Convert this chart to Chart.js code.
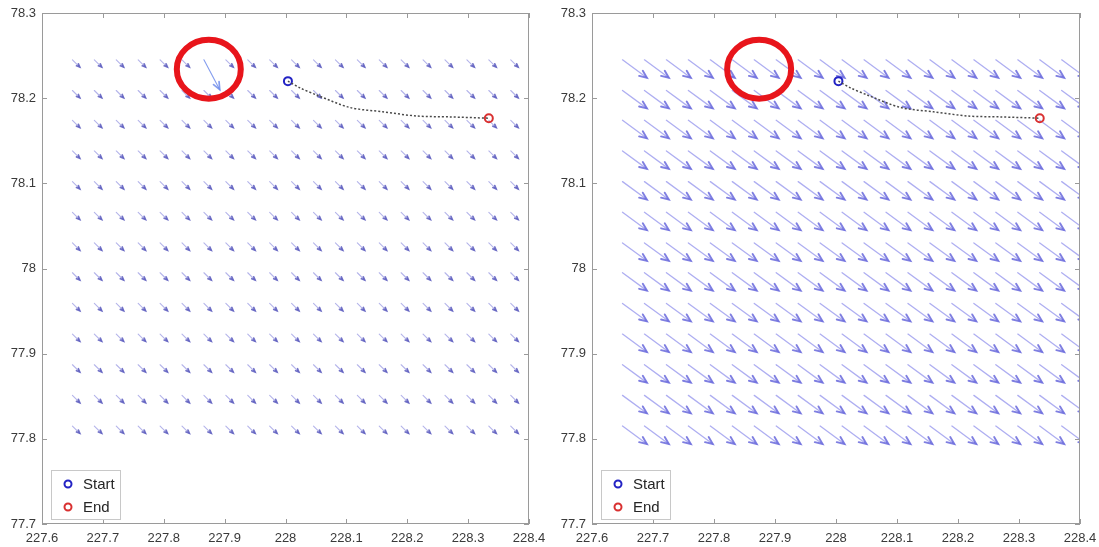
<!DOCTYPE html>
<html>
<head>
<meta charset="utf-8">
<script src="https://cdn.jsdelivr.net/npm/chart.js@4.4.0/dist/chart.umd.min.js"></script>
<style>
  html, body { margin: 0; padding: 0; background: #fff; overflow: hidden; }
  #wrap { position: relative; width: 1099px; height: 547px; }
  .panel { position: absolute; top: 0; height: 547px; }
  #leftPanel { left: 0; width: 550px; }
  #rightPanel { left: 550px; width: 549px; }
</style>
</head>
<body>
<div id="wrap">
  <div class="panel" id="leftPanel"><canvas id="leftChart" width="550" height="547"></canvas></div>
  <div class="panel" id="rightPanel"><canvas id="rightChart" width="549" height="547"></canvas></div>
</div>
<script>
// axis ticks (lon / lat)
const xTicks = [227.6, 227.7, 227.8, 227.9, 228.0, 228.1, 228.2, 228.3, 228.4];
const yTicks = [77.7, 77.8, 77.9, 78.0, 78.1, 78.2, 78.3];

// current field grid nodes
const gridLon = [227.650, 227.686, 227.722, 227.758, 227.794, 227.830, 227.866, 227.902, 227.938, 227.974, 228.010,
                 228.046, 228.082, 228.118, 228.154, 228.190, 228.226, 228.262, 228.298, 228.334, 228.370];
const gridLat = [78.245, 78.209, 78.174, 78.138, 78.102, 78.066, 78.030, 77.995, 77.959, 77.923, 77.887, 77.851, 77.815];

// vector components per grid row (deg), left = first field, right = second field
const leftU  = [0.012, 0.012, 0.012, 0.012, 0.012, 0.012, 0.012, 0.012, 0.012, 0.012, 0.012, 0.012, 0.012];
const leftV  = [-0.0085, -0.0085, -0.0085, -0.0085, -0.0085, -0.0085, -0.0085, -0.0085, -0.0085, -0.0085, -0.0085, -0.0085, -0.0085];
const rightU = [0.040, 0.040, 0.040, 0.040, 0.040, 0.040, 0.040, 0.040, 0.040, 0.040, 0.040, 0.040, 0.040];
const rightV = [-0.021, -0.021, -0.021, -0.021, -0.021, -0.021, -0.021, -0.021, -0.021, -0.021, -0.021, -0.021, -0.021];

// the one odd vector in the first field
const oddCell = [0, 6];          // row, col
const oddVec = [0.026, -0.035];  // u, v

// drift track
const trackLon = [228.004, 228.024, 228.052, 228.106, 228.160, 228.216, 228.270, 228.334];
const trackLat = [78.220, 78.212, 78.2035, 78.189, 78.184, 78.179, 78.178, 78.1765];
const startPt = [228.004, 78.220];
const endPt = [228.334, 78.1765];

// highlighted spot
const ringCenter = [227.874, 78.234];

const FONT = '"Liberation Sans", Arial, sans-serif';

function drawArrow(ctx, x0, y0, x1, y1, shaftColor, headColor, width) {
  const dx = x1 - x0, dy = y1 - y0;
  const len = Math.hypot(dx, dy);
  if (len < 0.5) return;
  const ang = Math.atan2(dy, dx);
  const hl = Math.min(8, Math.max(3.5, len * 0.3));
  ctx.strokeStyle = shaftColor;
  ctx.lineWidth = width;
  ctx.beginPath();
  ctx.moveTo(x0, y0);
  ctx.lineTo(x1, y1);
  ctx.stroke();
  ctx.strokeStyle = headColor;
  ctx.lineWidth = width + 0.6;
  ctx.beginPath();
  ctx.moveTo(x1 - hl * Math.cos(ang - 0.4), y1 - hl * Math.sin(ang - 0.4));
  ctx.lineTo(x1, y1);
  ctx.lineTo(x1 - hl * Math.cos(ang + 0.4), y1 - hl * Math.sin(ang + 0.4));
  ctx.stroke();
}

const quiverPlugin = {
  id: 'quiver',
  beforeDatasetsDraw(chart, args, opts) {
    const {ctx, chartArea: a, scales: {x, y}} = chart;
    ctx.save();
    ctx.beginPath();
    ctx.rect(a.left, a.top, a.width, a.height);
    ctx.clip();
    ctx.lineCap = 'round';
    gridLat.forEach((lat, r) => {
      gridLon.forEach((lon, c) => {
        let u = opts.u[r], v = opts.v[r], sc = opts.shaft, hc = opts.head;
        if (opts.odd && r === oddCell[0] && c === oddCell[1]) {
          u = oddVec[0]; v = oddVec[1]; sc = opts.oddColor; hc = opts.oddColor;
        }
        drawArrow(ctx, x.getPixelForValue(lon), y.getPixelForValue(lat),
          x.getPixelForValue(lon + u), y.getPixelForValue(lat + v), sc, hc, opts.width);
      });
    });
    ctx.restore();
  }
};

const framePlugin = {
  id: 'frame',
  afterDatasetsDraw(chart) {
    const {ctx, scales: {x, y}} = chart;
    // red ring around the odd spot
    ctx.save();
    ctx.strokeStyle = '#e8151b';
    ctx.lineWidth = 6;
    ctx.beginPath();
    ctx.ellipse(x.getPixelForValue(ringCenter[0]), y.getPixelForValue(ringCenter[1]), 32, 29.5, 0, 0, Math.PI * 2);
    ctx.stroke();
    ctx.restore();
  },
  afterDraw(chart) {
    const {ctx, chartArea: a, scales: {x, y}} = chart;
    ctx.save();
    // axes box with inward ticks
    ctx.strokeStyle = '#9a9a9a';
    ctx.lineWidth = 1;
    ctx.strokeRect(a.left + 0.5, a.top + 0.5, a.width - 1, a.height - 1);
    ctx.beginPath();
    xTicks.forEach(t => {
      const px = Math.round(x.getPixelForValue(t)) + 0.5;
      ctx.moveTo(px, a.bottom); ctx.lineTo(px, a.bottom - 5);
      ctx.moveTo(px, a.top); ctx.lineTo(px, a.top + 5);
    });
    yTicks.forEach(t => {
      const py = Math.round(y.getPixelForValue(t)) + 0.5;
      ctx.moveTo(a.left, py); ctx.lineTo(a.left + 5, py);
      ctx.moveTo(a.right, py); ctx.lineTo(a.right - 5, py);
    });
    ctx.stroke();

    // legend box, bottom-left inside the axes
    const items = chart.data.datasets.filter(d => d.inLegend);
    const bx = a.left + 9, bw = 69, bh = 49, by = a.bottom - 5 - bh;
    ctx.fillStyle = '#fff';
    ctx.fillRect(bx, by, bw, bh);
    ctx.strokeStyle = '#c8c8c8';
    ctx.strokeRect(bx + 0.5, by + 0.5, bw, bh);
    items.forEach((d, i) => {
      const cy = by + 14 + i * 23;
      ctx.strokeStyle = d.borderColor;
      ctx.lineWidth = 2;
      ctx.beginPath();
      ctx.arc(bx + 17, cy, 3.5, 0, Math.PI * 2);
      ctx.stroke();
      ctx.fillStyle = '#262626';
      ctx.font = '15px ' + FONT;
      ctx.textBaseline = 'middle';
      ctx.fillText(d.label, bx + 32, cy + 1);
    });
    ctx.restore();
  }
};

function buildChart(canvasId, u, v, shaft, head, width, odd, rightPad) {
  return new Chart(document.getElementById(canvasId), {
    type: 'scatter',
    data: {
      datasets: [
        {
          label: 'track',
          data: trackLon.map((lon, i) => ({x: lon, y: trackLat[i]})),
          showLine: true,
          borderColor: '#4a4a4a',
          borderWidth: 1.5,
          borderDash: [2, 2],
          pointRadius: 0,
          tension: 0.3
        },
        {
          label: 'Start',
          inLegend: true,
          data: [{x: startPt[0], y: startPt[1]}],
          pointStyle: 'circle',
          pointRadius: 4,
          borderColor: '#2323c4',
          backgroundColor: 'rgba(255,255,255,0)',
          borderWidth: 2
        },
        {
          label: 'End',
          inLegend: true,
          data: [{x: endPt[0], y: endPt[1]}],
          pointStyle: 'circle',
          pointRadius: 4,
          borderColor: '#d93030',
          backgroundColor: 'rgba(255,255,255,0)',
          borderWidth: 2
        }
      ]
    },
    options: {
      responsive: false,
      animation: false,
      devicePixelRatio: 1,
      layout: {padding: {left: 0, top: 13, right: rightPad, bottom: 0}},
      plugins: {
        legend: {display: false},
        tooltip: {enabled: false},
        quiver: {u: u, v: v, shaft: shaft, head: head, width: width, odd: odd, oddColor: 'rgba(110,140,235,0.85)'}
      },
      scales: {
        x: {
          type: 'linear',
          min: 227.6,
          max: 228.4,
          afterBuildTicks: s => { s.ticks = xTicks.map(t => ({value: t})); },
          afterFit: s => { s.height = 23; s.paddingLeft = 0; s.paddingRight = 0; },
          grid: {display: false, drawTicks: false},
          border: {display: false},
          ticks: {
            color: '#3a3a3a',
            font: {size: 13, family: FONT},
            padding: 7,
            maxRotation: 0,
            autoSkip: false,
            callback: val => String(parseFloat(val.toFixed(1)))
          }
        },
        y: {
          type: 'linear',
          min: 77.7,
          max: 78.3,
          afterBuildTicks: s => { s.ticks = yTicks.map(t => ({value: t})); },
          afterFit: s => { s.width = 42; s.paddingTop = 0; s.paddingBottom = 0; },
          grid: {display: false, drawTicks: false},
          border: {display: false},
          ticks: {
            color: '#3a3a3a',
            font: {size: 13, family: FONT},
            padding: 6,
            autoSkip: false,
            callback: val => String(parseFloat(val.toFixed(1)))
          }
        }
      }
    },
    plugins: [quiverPlugin, framePlugin]
  });
}

buildChart('leftChart', leftU, leftV, 'rgba(130,130,220,0.6)', 'rgba(80,80,185,0.8)', 1.1, true, 21);
buildChart('rightChart', rightU, rightV, 'rgba(140,140,235,0.7)', 'rgba(105,105,220,0.85)', 1.3, false, 19);
</script>
</body>
</html>
